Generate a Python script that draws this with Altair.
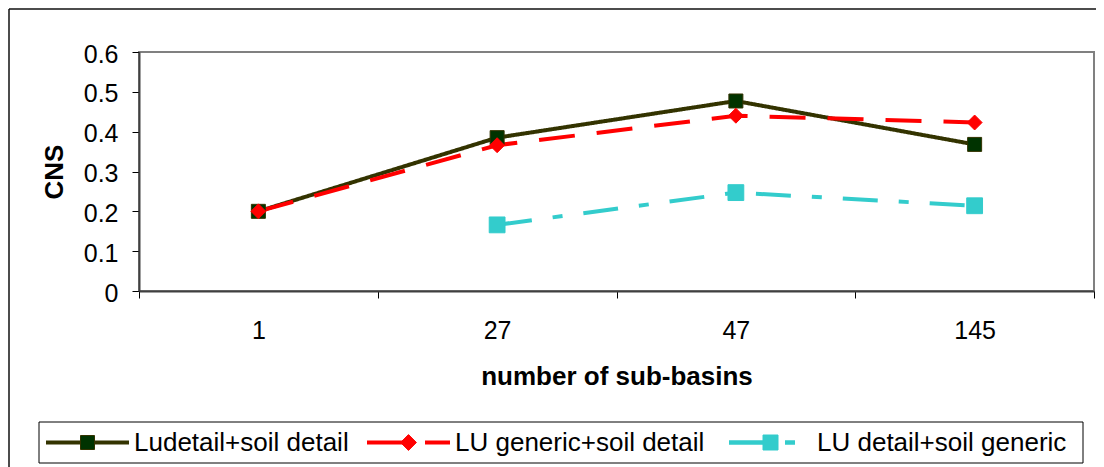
import altair as alt
import pandas as pd

# ---------------- data ----------------
categories = ["1", "27", "47", "145"]
series_names = ["Ludetail+soil detail", "LU generic+soil detail", "LU detail+soil generic"]
ludetail_soil_detail = [0.200, 0.385, 0.477, 0.368]
lu_generic_soil_detail = [0.200, 0.366, 0.440, 0.423]
lu_detail_soil_generic = [None, 0.166, 0.247, 0.214]
y_ticks = [0, 0.1, 0.2, 0.3, 0.4, 0.5, 0.6]

# ---------------- styles ----------------
FONT = "Liberation Sans"
line_colors = ["#333300", "#FF0000", "#33CCCC"]
marker_fill = ["#003300", "#FF0000", "#33CCCC"]
marker_stroke = ["#333300", "#FF0000", "#33CCCC"]
marker_shape = ["square", "diamond", "square"]
marker_size = [196, 250, 225]
dashes = [[1, 0], [36, 22], [35, 21, 10, 21]]
line_widths = [4, 4, 4.5]

rows = []
for name, vals in zip(series_names, [ludetail_soil_detail, lu_generic_soil_detail, lu_detail_soil_generic]):
    for i, (c, v) in enumerate(zip(categories, vals)):
        if v is not None:
            rows.append({"series": name, "basins": c, "CNS": v, "idx": i})
df = pd.DataFrame(rows)
one = pd.DataFrame({"_": [0]})

W, H = 955, 239

x_enc = alt.X(
    "basins:N",
    sort=categories,
    scale=alt.Scale(type="band", domain=categories, paddingInner=0, paddingOuter=0),
    axis=alt.Axis(
        title="number of sub-basins", labelAngle=0, tickBand="extent",
        labelFont=FONT, labelFontSize=25, labelColor="black", labelPadding=20,
        tickSize=7, tickColor="black", tickWidth=1,
        domainColor="#404040", domainWidth=2,
        titleFont=FONT, titleFontSize=26, titleFontWeight="bold", titleColor="black",
        titleX=W / 2, titleY=72.5, titleBaseline="top", titleAlign="center",
        grid=False,
    ),
)
y_enc = alt.Y(
    "CNS:Q",
    scale=alt.Scale(domain=[0, 0.6], nice=False),
    axis=alt.Axis(
        title="CNS", values=y_ticks, format=".1~f",
        labelFont=FONT, labelFontSize=25, labelColor="black", labelPadding=14, labelOffset=2,
        tickSize=7, tickColor="black", tickWidth=1,
        domainColor="#404040", domainWidth=2,
        titleFont=FONT, titleFontSize=26, titleFontWeight="bold", titleColor="black",
        titleX=-85, titleY=H / 2, titleBaseline="middle", titleAlign="center", titleAngle=270,
        grid=False,
    ),
)

base = alt.Chart(df)
lines = base.mark_line().encode(
    x=x_enc,
    y=y_enc,
    color=alt.Color("series:N", scale=alt.Scale(domain=series_names, range=line_colors), legend=None),
    strokeDash=alt.StrokeDash("series:N", scale=alt.Scale(domain=series_names, range=dashes), legend=None),
    strokeWidth=alt.StrokeWidth("series:N", scale=alt.Scale(domain=series_names, range=line_widths), legend=None),
    order=alt.Order("idx:Q"),
)
points = base.mark_point(filled=True, opacity=1, strokeWidth=1).encode(
    x=x_enc,
    y=y_enc,
    shape=alt.Shape("series:N", scale=alt.Scale(domain=series_names, range=marker_shape), legend=None),
    size=alt.Size("series:N", scale=alt.Scale(domain=series_names, range=marker_size), legend=None),
    fill=alt.Fill("series:N", scale=alt.Scale(domain=series_names, range=marker_fill), legend=None),
    stroke=alt.Stroke("series:N", scale=alt.Scale(domain=series_names, range=marker_stroke), legend=None),
)

# ---------------- decorations: outer frame and legend ----------------
frame_v = alt.Chart(one).mark_rule(color="#111111", strokeWidth=1.5).encode(
    x=alt.value(-130), y=alt.value(-43), y2=alt.value(430))
frame_h = alt.Chart(one).mark_rule(color="#111111", strokeWidth=1.5).encode(
    y=alt.value(-43), x=alt.value(-130), x2=alt.value(980))
legend_box = alt.Chart(one).mark_rect(fill="white", stroke="black", strokeWidth=1).encode(
    x=alt.value(-100), x2=alt.value(944), y=alt.value(370), y2=alt.value(411))

legend_layers = []
LEG_Y = 390.5
LEG_SYM_X = [-93, 228, 590]
SYM_LEN = 83
for i, name in enumerate(series_names):
    sx = LEG_SYM_X[i]
    legend_layers.append(
        alt.Chart(one).mark_rule(color=line_colors[i], strokeWidth=line_widths[i], strokeDash=dashes[i]).encode(
            x=alt.value(sx), x2=alt.value(sx + SYM_LEN), y=alt.value(LEG_Y)))
    legend_layers.append(
        alt.Chart(one).mark_point(shape=marker_shape[i], size=marker_size[i], filled=True, opacity=1,
                                  fill=marker_fill[i], stroke=marker_stroke[i], strokeWidth=1).encode(
            x=alt.value(sx + SYM_LEN / 2), y=alt.value(LEG_Y)))
    legend_layers.append(
        alt.Chart(one).mark_text(text=name, align="left", baseline="middle", font=FONT,
                                 fontSize=26, color="black").encode(
            x=alt.value(sx + SYM_LEN + 5), y=alt.value(LEG_Y)))

chart = alt.layer(frame_v, frame_h, legend_box, lines, points, *legend_layers).properties(
    width=W,
    height=H,
    padding={"left": 131, "top": 44, "right": 2, "bottom": 176},
    autosize=alt.AutoSizeParams(type="none"),
    background="white",
).configure_view(stroke="#808080", strokeWidth=2)

chart.save("out.html", embed_options={"renderer": "svg", "actions": False})
